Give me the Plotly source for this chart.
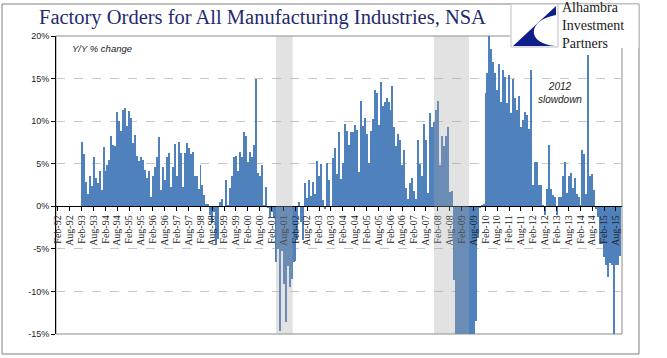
import pandas as pd
import plotly.graph_objects as go

# ---------------- data (Y/Y % change, NSA, monthly from Feb-1993) ----------------
first_month = "1993-02"
yoy_1993 = [7.6, 6.2, 2.9, 1.4, 3.6, 2.4, 5.8, 3.3, 2.7, 4.2, 1.9]
yoy_1994 = [7.0, 4.1, 4.8, 5.4, 8.2, 7.2, 7.1, 11.1, 10.0, 8.9, 11.3, 11.5]
yoy_1995 = [9.4, 11.2, 10.4, 7.4, 8.4, 5.9, 5.3, 5.8, 5.4, 4.3, 3.3, 4.2]
yoy_1996 = [1.1, 3.5, 4.6, 5.8, 8.1, 1.9, 4.6, 3.1, 5.8, 6.3, 2.3, 4.6]
yoy_1997 = [7.3, 3.5, 7.6, 6.3, 2.3, 6.3, 7.4, 6.8, 6.2, 6.4, 3.5, 3.5]
yoy_1998 = [2.0, 4.8, 2.5, 1.3, 0.3, 0.3, -1.0, -2.0, -0.7, -4.5, -3.8, 0.5]
yoy_1999 = [0.9, -0.1, 3.1, 0.1, 2.1, 3.6, 5.8, 5.9, 4.2, 6.4, 5.8, 8.7]
yoy_2000 = [8.2, 5.2, 6.4, 5.8, 7.2, 15.0, 3.9, 3.6, 4.8, 0.1, 2.3, -0.2]
yoy_2001 = [-1.2, -0.7, -1.3, -6.5, -5.0, -14.6, -5.2, -9.1, -13.6, -7.0, -9.5, -8.5]
yoy_2002 = [-6.5, -6.4, -4.0, 0.5, -1.8, -4.0, 2.7, 1.0, 3.1, 1.2, 2.9, 1.4]
yoy_2003 = [5.3, 3.5, 5.0, 0.7, -0.3, 5.1, 3.1, 0.0, 5.7, 6.9, 3.8, 8.7]
yoy_2004 = [3.2, 5.1, 9.7, 8.9, 7.2, 8.7, 8.7, 9.5, 9.0, 4.0, 12.4, 9.4]
yoy_2005 = [10.4, 8.5, 5.1, 8.9, 10.3, 13.7, 13.3, 9.6, 14.6, 11.8, 12.3, 12.7]
yoy_2006 = [12.3, 11.3, 14.1, 9.3, 7.1, 8.5, 7.8, 4.8, 6.6, 2.1, 0.9, 2.7]
yoy_2007 = [3.3, 1.8, 0.9, 7.8, 5.0, 3.6, 9.7, 7.8, 1.6, 10.9, 9.3, 9.9]
yoy_2008 = [11.3, 12.4, 4.8, 8.2, 7.1, 8.2, 9.3, 1.7, 1.8, -8.7, -16.0, -19.0]
yoy_2009 = [-23.0, -26.0, -28.0, -29.0, -28.0, -27.0, -25.0, -22.0, -13.5, -3.7, -0.2, 0.1]
yoy_2010 = [0.3, 13.3, 15.7, 20.5, 18.5, 17.0, 15.7, 13.7, 16.7, 12.2, 16.0, 15.2]
yoy_2011 = [12.1, 15.4, 10.9, 14.9, 12.7, 11.3, 12.9, 9.3, 10.1, 11.1, 10.7, 9.1]
yoy_2012 = [16.0, 2.5, 5.2, 5.2, 2.5, 2.5, 0.1, -1.0, 2.0, 7.2, 2.0, 1.3]
yoy_2013 = [1.1, -1.0, 1.1, 1.1, 3.5, 5.2, 1.6, 3.5, 3.9, 2.1, 3.3, 1.5]
yoy_2014 = [1.1, 0.2, 6.6, 6.1, 1.5, 17.8, 3.5, 3.8, 1.9, -0.3, -1.3, -4.4]
yoy_2015 = [-4.4, -6.0, -6.9, -8.3, -6.7, -6.9, -16.0, -6.9, -6.9, -5.8]

recessions = [("2001-04-22", "2002-01-03"), ("2007-12-16", "2009-06-07")]

y_tick_vals = [-15, -10, -5, 0, 5, 10, 15, 20]
y_tick_text = ["-15%", "-10%", "-5%", "0%", "5%", "10%", "15%", "20%"]

title_text = "Factory Orders for All Manufacturing Industries, NSA"
logo_text = "Alhambra<br>Investment<br>Partners"
note_text = "Y/Y % change"
slowdown_text = "2012<br>slowdown"

# ---------------- build ----------------
yoy = (yoy_1993 + yoy_1994 + yoy_1995 + yoy_1996 + yoy_1997 + yoy_1998 + yoy_1999
       + yoy_2000 + yoy_2001 + yoy_2002 + yoy_2003 + yoy_2004 + yoy_2005 + yoy_2006
       + yoy_2007 + yoy_2008 + yoy_2009 + yoy_2010 + yoy_2011 + yoy_2012 + yoy_2013
       + yoy_2014 + yoy_2015)
periods = pd.period_range(first_month, periods=len(yoy), freq="M")
x_mid = [p.to_timestamp() + pd.Timedelta(days=15) for p in periods]
widths = [p.days_in_month * 86400000 for p in periods]

W, H = 667, 358
L, R, T, B = 56, 622, 36, 334


def px(x):
    return (x - L) / (R - L)


def py(y):
    return (B - y) / (B - T)


fig = go.Figure()
fig.add_trace(go.Bar(x=x_mid, y=yoy, width=widths,
                     marker=dict(color="#4F81BD", line=dict(width=0)),
                     hoverinfo="skip"))

shapes = []
# plot-area border (grey)
shapes.append(dict(type="rect", xref="paper", yref="paper", x0=0, x1=1, y0=0, y1=1,
                   line=dict(color="#8C8C8C", width=1), layer="below"))
# recession shading
for a, b in recessions:
    shapes.append(dict(type="rect", xref="x", yref="paper", x0=a, x1=b, y0=0, y1=1,
                       fillcolor="rgba(165,165,165,0.32)", line=dict(width=0),
                       layer="above"))
# chart frame
shapes.append(dict(type="rect", xref="paper", yref="paper",
                   x0=px(2), x1=px(639), y0=py(354), y1=py(4),
                   line=dict(color="#7F7F7F", width=1), layer="below"))
# logo white backdrop
shapes.append(dict(type="rect", xref="paper", yref="paper",
                   x0=px(510), x1=px(638.5), y0=py(48), y1=py(4.5),
                   fillcolor="white", line=dict(width=0), layer="above"))
# logo icon box
shapes.append(dict(type="rect", xref="paper", yref="paper",
                   x0=px(511), x1=px(558), y0=py(47), y1=py(4),
                   fillcolor="white", line=dict(color="#BFBFBF", width=1), layer="above"))


def P(x, y):
    return f"{px(x):.5f},{py(y):.5f}"


swoosh = (f"M{P(556, 6)} L{P(513, 46)} L{P(556, 46)} "
          f"C{P(526, 44)} {P(527, 20)} {P(556, 15)} Z")
shapes.append(dict(type="path", xref="paper", yref="paper", path=swoosh,
                   fillcolor="#101E8C", line=dict(width=0), layer="above"))

annotations = [
    dict(text=title_text, xref="paper", yref="paper", x=px(262), y=py(18),
         xanchor="center", yanchor="middle", showarrow=False,
         font=dict(family="Liberation Serif", size=20.5, color="#1F2A6E")),
    dict(text=note_text, xref="paper", yref="paper", x=px(70), y=py(48),
         xanchor="left", yanchor="middle", showarrow=False,
         font=dict(family="Liberation Sans", size=9.5, color="#222222", style="italic")),
    dict(text=slowdown_text, xref="paper", yref="paper", x=px(560), y=py(93),
         xanchor="center", yanchor="middle", showarrow=False,
         font=dict(family="Liberation Sans", size=10, color="#222222", style="italic")),
    dict(text=logo_text, xref="paper", yref="paper", x=px(561), y=py(25),
         xanchor="left", yanchor="middle", align="left", showarrow=False, borderpad=0,
         font=dict(family="Liberation Serif", size=14, color="#1A1A1A")),
]

fig.update_layout(
    width=W, height=H,
    margin=dict(l=L, r=W - R, t=T, b=H - B, pad=0),
    paper_bgcolor="white", plot_bgcolor="white",
    showlegend=False, bargap=0,
    shapes=shapes, annotations=annotations,
    xaxis=dict(type="date", range=["1992-01-16", "2015-11-15"],
               anchor="free", position=15 / 35,
               tickformat="%b-%y", dtick="M6", tick0="1992-02-12",
               tickangle=-90, ticks="outside", ticklen=4, tickcolor="black",
               showline=True, linecolor="black", linewidth=1,
               showgrid=False, zeroline=False,
               tickfont=dict(family="Liberation Serif", size=10, color="#222222")),
    yaxis=dict(range=[-15, 20], tickvals=y_tick_vals, ticktext=y_tick_text,
               ticks="outside", ticklen=4, tickcolor="black",
               showline=True, linecolor="black", linewidth=1,
               showgrid=True, gridcolor="#C8C8C8", griddash="dash", gridwidth=1,
               zeroline=False,
               tickfont=dict(family="Liberation Sans", size=9, color="#222222")),
)

fig.write_html("out.html",
               config={"displayModeBar": False, "staticPlot": True},
               post_script="document.body.style.margin='0px';document.body.style.overflow='hidden';")
